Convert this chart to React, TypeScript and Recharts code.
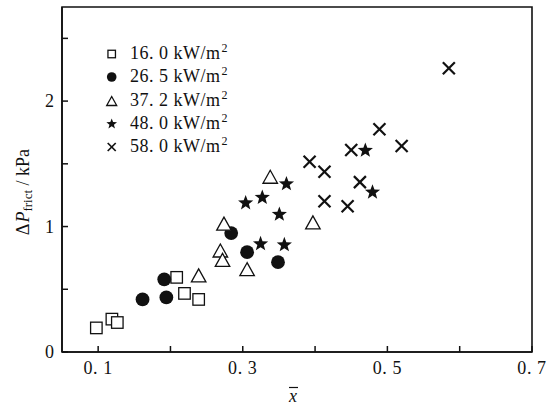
import { ScatterChart, Scatter, XAxis, YAxis, ReferenceArea, Legend } from "recharts";

// heat flux series (legend text, the "2" is drawn as a superscript)
const fluxLabels = ["16. 0 kW/m", "26. 5 kW/m", "37. 2 kW/m", "48. 0 kW/m", "58. 0 kW/m"];

// [x, dP]
const flux16: number[][] = [
  [0.0975, 0.192], [0.119, 0.262], [0.1265, 0.235],
  [0.2086, 0.595], [0.2194, 0.467], [0.239, 0.419],
];
const flux26: number[][] = [
  [0.1614, 0.419], [0.1914, 0.579], [0.1943, 0.435],
  [0.284, 0.948], [0.306, 0.796], [0.3487, 0.716],
];
const flux37: number[][] = [
  [0.239, 0.611], [0.274, 1.023], [0.269, 0.809], [0.272, 0.734],
  [0.306, 0.66], [0.338, 1.397], [0.397, 1.033],
];
const flux48: number[][] = [
  [0.304, 1.188], [0.327, 1.231], [0.3604, 1.34], [0.3506, 1.097],
  [0.3246, 0.862], [0.3575, 0.854], [0.4695, 1.607], [0.4794, 1.274],
];
const flux58: number[][] = [
  [0.585, 2.262], [0.3924, 1.517], [0.413, 1.437], [0.45, 1.61], [0.489, 1.776],
  [0.5197, 1.642], [0.462, 1.354], [0.413, 1.202], [0.445, 1.162],
];

const xTicks = [0.1, 0.2, 0.3, 0.4, 0.5, 0.6, 0.7];
const xTickLabels = ["0. 1", "", "0. 3", "", "0. 5", "", "0. 7"];
const yTicks = [0, 0.5, 1, 1.5, 2, 2.5];
const yTickLabels = ["0", "", "1", "", "2", ""];

const FONT = "'Liberation Serif', 'Times New Roman', serif";
const INK = "#111";

const toPoints = (rows: number[][]) => rows.map(([x, y]) => ({ x, y }));

// marker shapes
function Square({ cx, cy, s = 11.5 }: any) {
  return <rect x={cx - s / 2} y={cy - s / 2} width={s} height={s} fill="#fff" stroke={INK} strokeWidth={1.3} />;
}
function Dot({ cx, cy, r = 6.9 }: any) {
  return <circle cx={cx} cy={cy} r={r} fill={INK} />;
}
function Triangle({ cx, cy, w = 14.5, h = 13 }: any) {
  const pts = `${cx},${cy - h / 2} ${cx - w / 2},${cy + h / 2} ${cx + w / 2},${cy + h / 2}`;
  return <polygon points={pts} fill="#fff" stroke={INK} strokeWidth={1.3} />;
}
function Star({ cx, cy, R = 8 }: any) {
  const pts: string[] = [];
  for (let i = 0; i < 10; i++) {
    const rad = i % 2 === 0 ? R : R * 0.42;
    const a = -Math.PI / 2 + (i * Math.PI) / 5;
    pts.push(`${cx + rad * Math.cos(a)},${cy + rad * Math.sin(a)}`);
  }
  return <polygon points={pts.join(" ")} fill={INK} />;
}
function Cross({ cx, cy, d = 6, sw = 2.2 }: any) {
  return (
    <g stroke={INK} strokeWidth={sw}>
      <line x1={cx - d} y1={cy - d} x2={cx + d} y2={cy + d} />
      <line x1={cx - d} y1={cy + d} x2={cx + d} y2={cy - d} />
    </g>
  );
}

const legendIcons = [
  (c: number) => <Square cx={c} cy={c} s={7.5} />,
  (c: number) => <Dot cx={c} cy={c} r={4.8} />,
  (c: number) => <Triangle cx={c} cy={c} w={10} h={9} />,
  (c: number) => <Star cx={c} cy={c} R={5.6} />,
  (c: number) => <Cross cx={c} cy={c} d={4} sw={1.7} />,
];

function FluxLegend() {
  return (
    <div style={{ fontFamily: FONT, fontSize: 18, color: INK, letterSpacing: 0.5 }}>
      {fluxLabels.map((label, i) => (
        <div key={label} style={{ display: "flex", alignItems: "center", height: 23.25 }}>
          <svg width={24} height={24} style={{ flex: "none" }}>
            <g transform="translate(-0.3,0)">{legendIcons[i](12)}</g>
          </svg>
          <span style={{ marginLeft: 6, whiteSpace: "nowrap", lineHeight: "18px" }}>
            {label}
            <span style={{ fontSize: 12, position: "relative", top: -7, marginLeft: 1 }}>2</span>
          </span>
        </div>
      ))}
    </div>
  );
}

function XTick({ x, y, index }: any) {
  return (
    <g>
      <line x1={x} y1={y} x2={x} y2={y - 6} stroke={INK} strokeWidth={1.5} />
      <text x={x} y={y + 16} textAnchor="middle" dominantBaseline="central" fontFamily={FONT} fontSize={18} letterSpacing={0.6} fill={INK}>
        {xTickLabels[index]}
      </text>
    </g>
  );
}

function YTick({ x, y, index }: any) {
  return (
    <g>
      <line x1={x} y1={y} x2={x + 6} y2={y} stroke={INK} strokeWidth={1.5} />
      <text x={x - 8} y={y} textAnchor="end" dominantBaseline="central" fontFamily={FONT} fontSize={18} fill={INK}>
        {yTickLabels[index]}
      </text>
    </g>
  );
}

function YLabel() {
  const cx = 23;
  const cy = 192;
  return (
    <text
      x={cx}
      y={cy}
      transform={`rotate(-90 ${cx} ${cy})`}
      textAnchor="middle"
      dominantBaseline="central"
      fontFamily={FONT}
      fontSize={18}
      fill={INK}
    >
      <tspan>Δ</tspan>
      <tspan fontStyle="italic" dx={1}>P</tspan>
      <tspan fontSize={13} dy={4}>frict</tspan>
      <tspan dy={-4}> / kPa</tspan>
    </text>
  );
}

function XLabel() {
  return (
    <g>
      <text x={293} y={396} textAnchor="middle" dominantBaseline="central" fontFamily={FONT} fontStyle="italic" fontSize={18} fill={INK}>
        x
      </text>
      <line x1={289} y1={387.5} x2={298} y2={387.5} stroke={INK} strokeWidth={1.2} />
    </g>
  );
}

const seriesList = [
  { rows: flux16, shape: (p: any) => <Square cx={p.cx} cy={p.cy} /> },
  { rows: flux26, shape: (p: any) => <Dot cx={p.cx} cy={p.cy} /> },
  { rows: flux37, shape: (p: any) => <Triangle cx={p.cx} cy={p.cy} /> },
  { rows: flux48, shape: (p: any) => <Star cx={p.cx} cy={p.cy} /> },
  { rows: flux58, shape: (p: any) => <Cross cx={p.cx} cy={p.cy} /> },
];

export default function App() {
  return (
    <div style={{ width: 560, height: 409, background: "#fff" }}>
      <style>{`body{margin:0}`}</style>
      <ScatterChart width={560} height={409} margin={{ top: 7, right: 28, left: 0, bottom: 0 }}>
        <XAxis
          type="number"
          dataKey="x"
          domain={[0.05, 0.7]}
          ticks={xTicks}
          interval={0}
          allowDataOverflow
          height={57}
          tickLine={false}
          tickSize={0}
          tickMargin={0}
          axisLine={{ stroke: INK, strokeWidth: 1.6 }}
          tick={<XTick />}
          label={<XLabel />}
        />
        <YAxis
          type="number"
          dataKey="y"
          domain={[0, 2.75]}
          ticks={yTicks}
          interval={0}
          allowDataOverflow
          width={62}
          tickLine={false}
          tickSize={0}
          tickMargin={0}
          axisLine={{ stroke: INK, strokeWidth: 1.6 }}
          tick={<YTick />}
          label={<YLabel />}
        />
        <ReferenceArea x1={0.05} x2={0.7} y1={0} y2={2.75} fill="none" stroke={INK} strokeWidth={1.6} />
        {seriesList.map((s, i) => (
          <Scatter key={i} name={fluxLabels[i]} data={toPoints(s.rows)} shape={s.shape} isAnimationActive={false} />
        ))}
        <Legend
          layout="vertical"
          align="center"
          verticalAlign="middle"
          content={<FluxLegend />}
          wrapperStyle={{ left: 100, top: 42.4, width: 170 }}
        />
      </ScatterChart>
    </div>
  );
}
